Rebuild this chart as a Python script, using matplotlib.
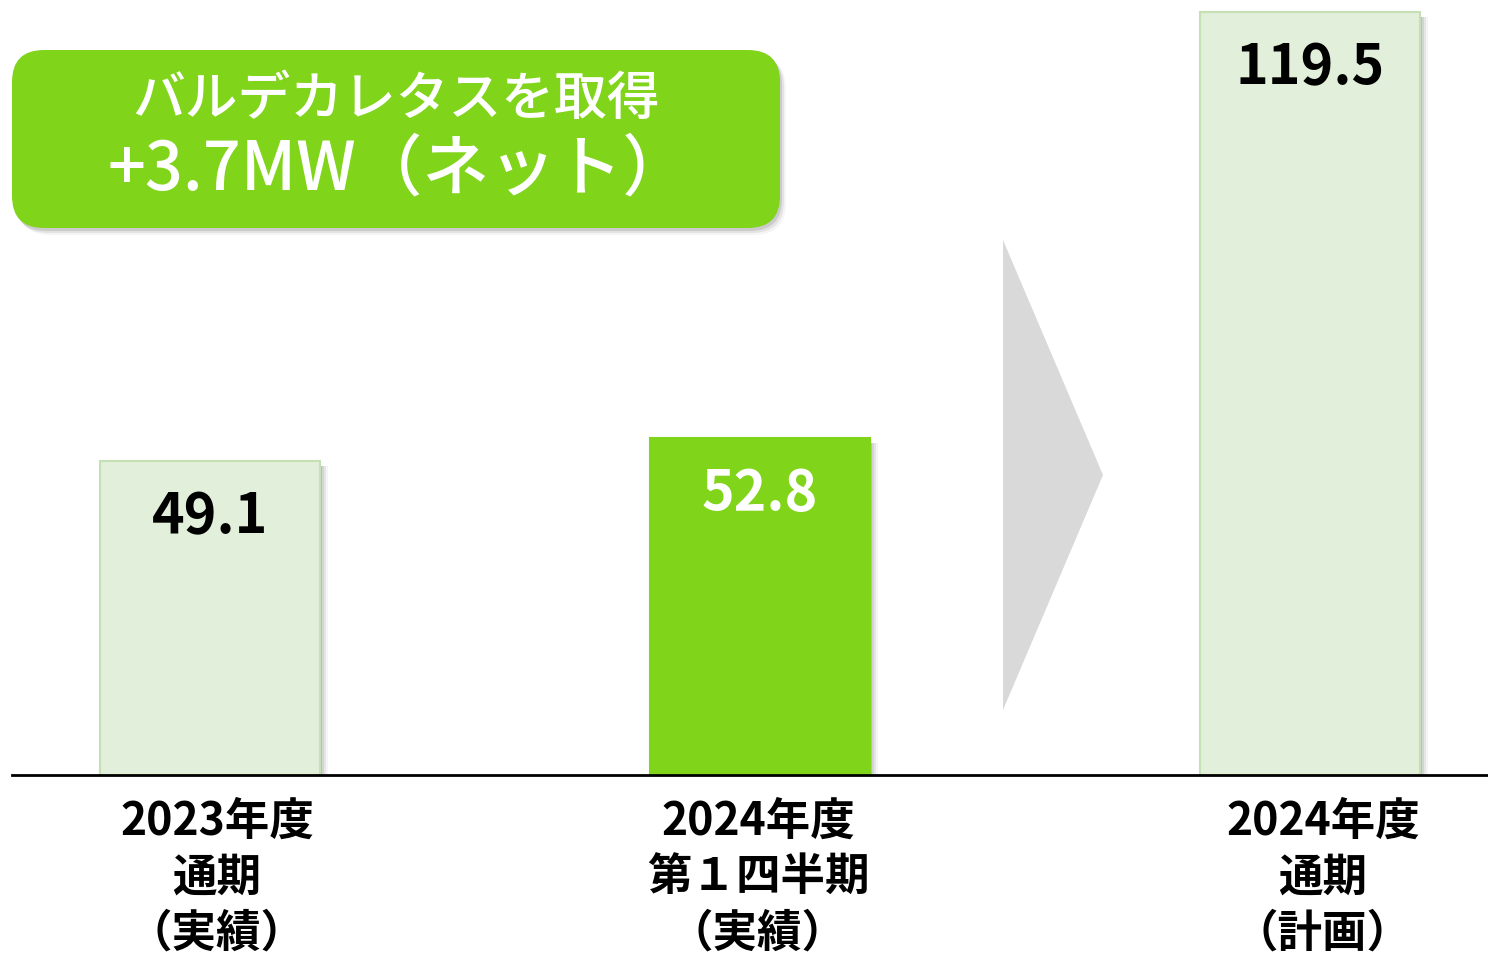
import numpy as np
import matplotlib
matplotlib.use('Agg')
from matplotlib import pyplot as plt
from matplotlib.patches import FancyBboxPatch, Polygon, Rectangle

plt.rcParams['font.family'] = ['Noto Sans CJK JP', 'DejaVu Sans']

# data
categories = [['2023年度', '通期', '（実績）'],
              ['2024年度', '第１四半期', '（実績）'],
              ['2024年度', '通期', '（計画）']]
values = [49.1, 52.8, 119.5]
value_labels = ['49.1', '52.8', '119.5']
highlight = [False, True, False]
box_lines = ['バルデカレタスを取得', '+3.7MW（ネット）']

light_face = '#E2EFDA'
light_edge = '#C5E0B4'
green = '#80D41A'

W, H = 1488, 957
fig = plt.figure(figsize=(W / 100, H / 100), dpi=100)

# main axes: baseline at y=775 px, x from 12 px to right edge
base_px = 775
ax = fig.add_axes([12 / W, (H - base_px) / H, (W - 12) / W, base_px / H])
px_per_x = 550.0
px_per_y = 6.385
ax.set_xlim((12 - 210) / px_per_x, (W - 210) / px_per_x)
ax.set_ylim(0, base_px / px_per_y)
ax.axis('off')
ax.axhline(0, color='black', lw=2, zorder=5, clip_on=False)

x = np.arange(len(values))
bw = 220 / px_per_x
# soft shadow on the right of each bar
for k, a in enumerate([0.10, 0.08, 0.06, 0.04]):
    for xi, v in zip(x, values):
        dx = (2 + 2 * k) / px_per_x
        ax.add_patch(Rectangle((xi - bw / 2 + dx, 0), bw, v - 5 / px_per_y,
                               facecolor='black', alpha=a, lw=0, zorder=1))
faces = [green if h else light_face for h in highlight]
edges = [green if h else light_edge for h in highlight]
ax.bar(x, values, width=bw, color=faces, edgecolor=edges, linewidth=1.5, zorder=2)

for xi, v, lab, h in zip(x, values, value_labels, highlight):
    ax.annotate(lab, (xi, v), xytext=(0, -56 * 0.72), textcoords='offset points',
                ha='center', va='center', fontsize=40, fontweight='bold',
                color='white' if h else 'black', zorder=6)

label_shift = [7, -2, 13]  # px, labels are not exactly centred under the bars
for xi, lines, s in zip(x, categories, label_shift):
    for j, line in enumerate(lines):
        ax.annotate(line, (xi + s / px_per_x, 0), xytext=(0, -(47 + 56 * j) * 0.72),
                    textcoords='offset points', ha='center', va='center',
                    fontsize=32, fontweight='bold', color='black', annotation_clip=False)

# grey arrow between Q1 and full-year plan
ax.add_patch(Polygon([[(1003 - 210) / px_per_x, (base_px - 240) / px_per_y],
                      [(1103 - 210) / px_per_x, (base_px - 475) / px_per_y],
                      [(1003 - 210) / px_per_x, (base_px - 710) / px_per_y]],
                     closed=True, facecolor='#D9D9D9', edgecolor='none', zorder=1))

# overlay in pixel coordinates for the callout box
ov = fig.add_axes([0, 0, 1, 1])
ov.set_xlim(0, W)
ov.set_ylim(H, 0)
ov.axis('off')
for k, a in enumerate([0.10, 0.07, 0.04]):
    ov.add_patch(FancyBboxPatch((14 + 2 * k, 53 + 2 * k), 768, 178,
                                boxstyle='round,pad=0,rounding_size=32',
                                facecolor='black', alpha=a, lw=0))
ov.add_patch(FancyBboxPatch((12, 50), 768, 178, boxstyle='round,pad=0,rounding_size=32',
                            facecolor=green, edgecolor='none'))
ov.text(396, 100, box_lines[0], ha='center', va='center', fontsize=38,
        fontweight='medium', color='white')
ov.text(398, 170, box_lines[1], ha='center', va='center', fontsize=48,
        fontweight='medium', color='white')

fig.savefig('out.png', dpi=100)
